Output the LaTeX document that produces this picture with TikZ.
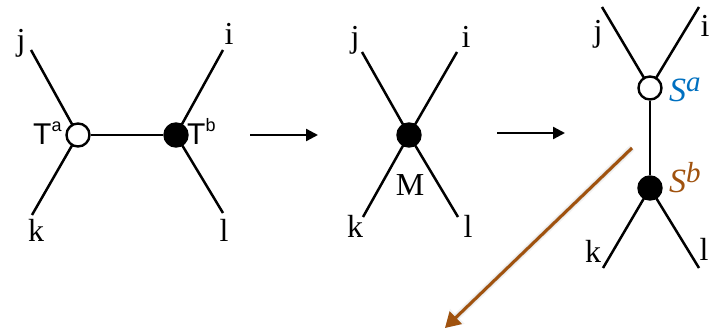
\documentclass[tikz,border=0pt]{standalone}
\usepackage{fontspec}
\setmainfont{Liberation Serif}
\newfontfamily\tsans{Liberation Sans}
\usetikzlibrary{arrows.meta}
\definecolor{sblue}{RGB}{0,112,192}
\definecolor{sbrown}{RGB}{160,82,14}
\tikzset{
  edge/.style={line width=2.5pt, black},
  opendot/.style={circle, draw=black, line width=2.4pt, fill=white, minimum size=23pt, inner sep=0pt},
  fulldot/.style={circle, draw=black, line width=2.4pt, fill=black, minimum size=23pt, inner sep=0pt},
  lbl/.style={anchor=base, inner sep=0pt, font=\fontsize{32}{32}\selectfont},
  tlbl/.style={anchor=base west, inner sep=0pt, font=\tsans\fontsize{30}{30}\selectfont},
  slbl/.style={anchor=base west, inner sep=0pt, font=\fontsize{34}{34}\selectfont\itshape},
  steparrow/.style={line width=2.3pt, -{Triangle[length=12pt,width=12pt]}},
}
\newcommand{\tsup}[1]{\raisebox{13pt}{\fontsize{18}{18}\selectfont #1}}
\newcommand{\ssup}[1]{\raisebox{10pt}{\fontsize{29}{29}\selectfont\itshape #1}}
\begin{document}
\begin{tikzpicture}[x=1pt,y=-1pt]
\useasboundingbox (0,0) rectangle (715,334);
% ---------- left diagram ----------
\coordinate (Lj) at (31,50);
\coordinate (Li) at (223,50);
\coordinate (Lk) at (32,215);
\coordinate (Ll) at (223,213);
\draw[edge] (Lj) -- (78,135) -- (Lk);
\draw[edge] (Li) -- (176,135) -- (Ll);
\node[opendot] (Ta) at (78,135) {};
\node[fulldot] (Tb) at (176,135) {};
\draw[edge] (Ta) -- (Tb);
\node[lbl] (Ljl) at (21,51) {j};
\node[lbl] (Lil) at (229,45) {i};
\node[lbl] (Lkl) at (36,241) {k};
\node[lbl] (Lll) at (224,241) {l};
\node[tlbl] (Tal) at (33,145) {T\tsup{a}};
\node[tlbl] (Tbl) at (187,145) {T\tsup{b}};
% ---------- arrow 1 ----------
\coordinate (A1s) at (250,135);
\coordinate (A1e) at (318,135);
\draw[steparrow] (A1s) -- (A1e);
% ---------- middle diagram ----------
\coordinate (Mj) at (362,52);
\coordinate (Mi) at (457,52);
\coordinate (Mk) at (363,217);
\coordinate (Ml) at (458,217);
\draw[edge] (Mj) -- (409,135) -- (Ml);
\draw[edge] (Mi) -- (409,135) -- (Mk);
\node[fulldot] (M) at (409,135) {};
\node[lbl] (Mjl) at (355,48) {j};
\node[lbl] (Mil) at (466,48) {i};
\node[lbl] (Mkl) at (355,237) {k};
\node[lbl] (Mll) at (468,237) {l};
\node[lbl] (Mlab) at (410,196) {M};
% ---------- arrow 2 ----------
\coordinate (A2s) at (497,133);
\coordinate (A2e) at (565,133);
\draw[steparrow] (A2s) -- (A2e);
% ---------- right diagram ----------
\coordinate (Rj) at (602,7);
\coordinate (Ri) at (699,7);
\coordinate (Rk) at (603,268);
\coordinate (Rl) at (699,268);
\draw[edge] (Rj) -- (650,88) -- (Ri);
\draw[edge] (Rk) -- (650,188) -- (Rl);
\node[opendot] (Sa) at (650,88) {};
\node[fulldot] (Sb) at (650,188) {};
\draw[edge] (Sa) -- (Sb);
\node[lbl] (Rjl) at (598,42) {j};
\node[lbl] (Ril) at (705,37) {i};
\node[lbl] (Rkl) at (593,262) {k};
\node[lbl] (Rll) at (704,260) {l};
\node[slbl, text=sblue] (Sal) at (669,102) {S\ssup{a}};
\node[slbl, text=sbrown] (Sbl) at (669,193) {S\ssup{b}};
% ---------- brown arrow ----------
\coordinate (Bs) at (632,148);
\coordinate (Be) at (445,328);
\begin{scope}[shift={(3,3)}]
  \draw[line width=7pt, black, opacity=0.05, -{Triangle[length=17pt,width=20pt]}] (Bs) -- (Be);
  \draw[line width=4pt, black, opacity=0.1, -{Triangle[length=15pt,width=17pt]}] (Bs) -- (Be);
\end{scope}
\draw[line width=3pt, sbrown, -{Triangle[length=15pt,width=17pt]}] (Bs) -- (Be);
\end{tikzpicture}
\end{document}
